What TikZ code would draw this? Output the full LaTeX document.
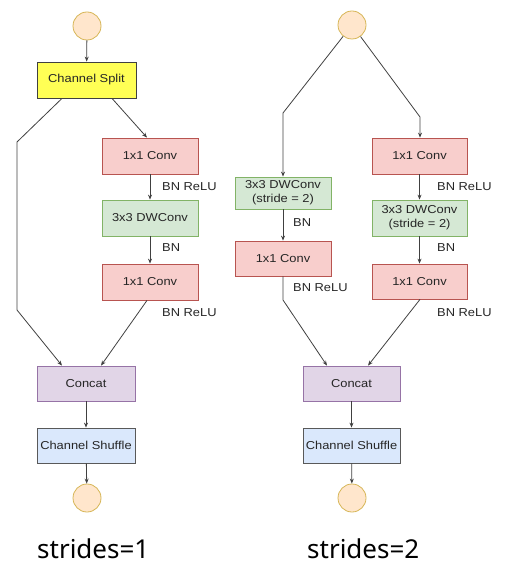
\documentclass[tikz,border=0pt]{standalone}
\usepackage{fontspec}
\setmainfont{Liberation Sans}[FakeStretch=1.12]
\newfontfamily\capfont{Noto Sans}
\usetikzlibrary{arrows.meta}

\definecolor{linegray}{HTML}{404040}
\definecolor{splitfill}{HTML}{FFFF55}
\definecolor{convfill}{HTML}{F8CECC}
\definecolor{convline}{HTML}{B85450}
\definecolor{dwfill}{HTML}{D5E8D4}
\definecolor{dwline}{HTML}{82B366}
\definecolor{catfill}{HTML}{E1D5E7}
\definecolor{catline}{HTML}{9673A6}
\definecolor{shufill}{HTML}{DAE8FC}
\definecolor{iofill}{HTML}{FFE6CC}
\definecolor{ioline}{HTML}{D6B656}

\begin{document}
\begin{tikzpicture}[x=1pt,y=-1pt,
    every node/.style={font=\fontsize{11.5}{14}\selectfont, text=black!85},
    block/.style={draw, line width=0.8pt, minimum width=96pt, minimum height=36pt, inner sep=0pt, align=center},
    split/.style={block, fill=splitfill, draw=black!75, minimum width=99pt},
    conv/.style={block, fill=convfill, draw=convline},
    dw/.style={block, fill=dwfill, draw=dwline},
    cat/.style={block, fill=catfill, draw=catline, minimum width=98pt, minimum height=35pt},
    shuffle/.style={block, fill=shufill, draw=black!65, minimum width=98pt, minimum height=35pt},
    io/.style={circle, fill=iofill, draw=ioline, line width=0.8pt, minimum size=28pt, inner sep=0pt},
    lbl/.style={anchor=west, inner sep=0pt},
    link/.style={draw=linegray, line width=0.8pt, -{Stealth[length=5pt,width=4pt]}}
    ]
    \useasboundingbox (0,0) rectangle (518,585);

    %left unit (strides=1):
    \node[io] (inA) at (87,26) {};
    \node[split] (splitA) at (86.5,80) {Channel Split};
    \node[conv] (convA1) at (150,156) {1x1 Conv};
    \node[dw] (dwA) at (150,218) {3x3 DWConv};
    \node[conv] (convA2) at (150,282) {1x1 Conv};
    \node[cat] (catA) at (86,383.5) {Concat};
    \node[shuffle] (shufA) at (86,445.5) {Channel Shuffle};
    \node[io] (outA) at (87,498) {};

    \node[lbl] (bnA1) at (162,187) {BN ReLU};
    \node[lbl] (bnA2) at (162,248) {BN};
    \node[lbl] (bnA3) at (162,313) {BN ReLU};

    \coordinate (byA1) at (17,142);
    \coordinate (byA2) at (17,310);

    \draw[link] (inA) -- (splitA);
    \draw[link] (splitA.south -| 112,0) -- (convA1.north -| 147,0);
    \draw[link] (convA1) -- (dwA);
    \draw[link] (dwA) -- (convA2);
    \draw[link] (splitA.south -| 62,0) -- (byA1) -- (byA2) -- (catA.north -| 62,0);
    \draw[link] (convA2.south -| 147,0) -- (catA.north -| 101,0);
    \draw[link] (catA) -- (shufA);
    \draw[link] (shufA) -- (outA);

    %right unit (strides=2):
    \node[io] (inB) at (352,25) {};
    \node[dw, minimum height=32pt] (dwB1) at (283,193) {3x3 DWConv\\(stride = 2)};
    \node[conv, minimum height=35pt] (convB1) at (283,258.5) {1x1 Conv};
    \node[conv, minimum width=95pt] (convB2) at (419.5,156) {1x1 Conv};
    \node[dw, minimum width=95pt] (dwB2) at (419.5,218) {3x3 DWConv\\(stride = 2)};
    \node[conv, minimum width=95pt, minimum height=35pt] (convB3) at (419.5,281.5) {1x1 Conv};
    \node[cat, minimum width=97pt] (catB) at (351.5,383.5) {Concat};
    \node[shuffle, minimum width=97pt] (shufB) at (351.5,445.5) {Channel Shuffle};
    \node[io] (outB) at (352,498) {};

    \node[lbl] (bnB1) at (293,223) {BN};
    \node[lbl] (bnB2) at (293,288) {BN ReLU};
    \node[lbl] (bnB3) at (437,187) {BN ReLU};
    \node[lbl] (bnB4) at (437,248) {BN};
    \node[lbl] (bnB5) at (437,313) {BN ReLU};

    \coordinate (brB1) at (283,113);
    \coordinate (brB2) at (420,117);
    \coordinate (brB3) at (283,300);

    \draw[link] (inB) -- (brB1) -- (dwB1);
    \draw[link] (inB) -- (brB2) -- (convB2.north -| 420,0);
    \draw[link] (dwB1) -- (convB1);
    \draw[link] (convB2) -- (dwB2);
    \draw[link] (dwB2) -- (convB3);
    \draw[link] (convB1) -- (brB3) -- (catB.north -| 327,0);
    \draw[link] (convB3.south -| 420,0) -- (catB.north -| 368,0);
    \draw[link] (catB) -- (shufB);
    \draw[link] (shufB) -- (outB);

    %captions:
    \node[anchor=base west, inner sep=0pt, font=\capfont\fontsize{26}{30}\selectfont, text=black] (capA) at (37,558) {strides=1};
    \node[anchor=base west, inner sep=0pt, font=\capfont\fontsize{26}{30}\selectfont, text=black] (capB) at (307,558) {strides=2};

\end{tikzpicture}
\end{document}
